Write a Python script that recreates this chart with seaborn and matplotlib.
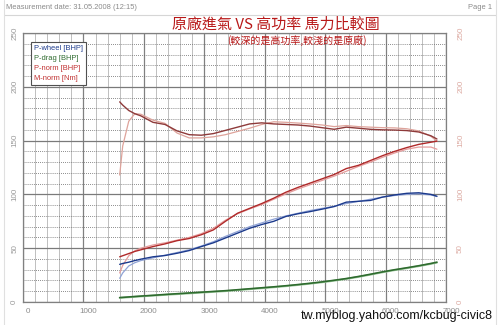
import matplotlib
matplotlib.use("Agg")
import matplotlib.pyplot as plt
import matplotlib.transforms as mtransforms
from matplotlib.lines import Line2D
import seaborn as sns

# ---------------- data ----------------
rpm = [1600, 1650, 1750, 1850, 1950, 2150, 2350, 2550, 2750, 2950,
       3150, 3350, 3550, 3750, 3950, 4150, 4350, 4550, 4750, 4950,
       5150, 5350, 5550, 5750, 5950, 6150, 6350, 6550, 6750, 6850]

# high-flow intake (darker lines)
p_wheel_hf = [35, 35.8, 37, 38.5, 39.8, 42, 43.2, 45.3, 47.8, 51.5,
              55, 59.5, 64, 68.5, 72, 75, 79.5, 82, 84, 86.3,
              88.7, 92.8, 93.6, 94.4, 97.5, 99.5, 101, 101.5, 100, 98.3]
p_drag_hf = [4.1, 4.3, 4.7, 5.1, 5.5, 6.2, 7.0, 7.7, 8.4, 9.1,
             9.8, 10.5, 11.4, 12.3, 13.2, 14.1, 15.1, 16.2, 17.4, 18.7,
             20.2, 21.8, 23.7, 25.8, 28.0, 30.0, 31.8, 33.7, 35.8, 37.0]
p_norm_hf = [42, 43, 45, 47, 48.5, 51.5, 54, 57, 59, 62.5,
             67, 75, 82.5, 87, 91.5, 96.5, 102, 106.5, 110.5, 114.5,
             118.5, 124, 127, 131.5, 136, 140, 143.5, 146.5, 148.5, 149.5]
m_norm_hf = [186, 183, 178, 175, 173, 167, 165, 159, 155.5, 155,
             156.5, 159.5, 162.5, 165.5, 166.5, 165.5, 165, 164.5, 163.5, 162,
             160.5, 162.5, 161.5, 160.5, 160, 159.8, 159.3, 158, 154.5, 151.5]

# stock intake (lighter lines)
p_wheel_st = [22, 27, 33.5, 36.5, 38.5, 41, 43.5, 46, 48.5, 52,
              56, 61, 65.5, 70, 73.5, 77, 80, 82.5, 85, 87,
              89, 91.5, 93.5, 95.5, 97.5, 99, 100, 100.5, 99.5, 98]
p_drag_st = [3.8, 4.0, 4.4, 4.8, 5.2, 5.9, 6.6, 7.3, 8.0, 8.7,
             9.4, 10.1, 11.0, 11.9, 12.8, 13.7, 14.7, 15.8, 17.0, 18.3,
             19.8, 21.4, 23.3, 25.4, 27.6, 29.6, 31.4, 33.3, 35.4, 36.6]
p_norm_st = [27, 34, 43, 47.5, 50, 53, 55, 57.5, 60, 63.5,
             68.5, 76, 82, 86.5, 90.5, 95.5, 100.5, 105, 109, 113,
             117, 121.5, 126, 130, 134.5, 138.5, 142, 144, 144, 142]
m_norm_st = [118, 145, 168, 175, 174.5, 169, 166, 157, 152.5, 152.5,
             153.5, 155.5, 158.5, 161.5, 165, 167.5, 167, 166.3, 165.5, 164.5,
             163, 164, 163, 162.5, 162, 161.8, 161, 159, 154, 149.5]

legend_labels = ["P-wheel [BHP]", "P-drag [BHP]", "P-norm [BHP]", "M-norm [Nm]"]
x_ticks = [0, 1000, 2000, 3000, 4000, 5000, 6000, 7000]
y_ticks = [0, 50, 100, 150, 200, 250]

title = "原廠進氣 VS 高功率 馬力比較圖"
subtitle = "(較深的是高功率,較淺的是原廠)"
header = "Measurement date: 31.05.2008 (12:15)"
page = "Page 1"
watermark = "tw.myblog.yahoo.com/kcbug-civic8"

# ---------------- style ----------------
sns.set_theme(style="white")
plt.rcParams['font.family'] = ['Liberation Sans', 'DejaVu Sans']
CJK = ['Noto Sans CJK TC', 'DejaVu Sans']

W, H = 500, 325
fig = plt.figure(figsize=(5, 3.25), dpi=100)
fig.patch.set_facecolor("white")

def fx(px):
    return px / W

def fy(py):
    return 1 - py / H

L, R, T, B = 23, 446, 33, 302
ax = fig.add_axes([fx(L), fy(B), fx(R - L), (B - T) / H])
ax.set_facecolor("white")

# grid
for v in range(0, 7001, 200):
    major = (v % 1000 == 0)
    ax.axvline(v, color="#808080" if major else "#b4b4b4",
               lw=0.9 if major else 0.6, zorder=0)
for v in range(0, 251, 10):
    if v % 50 == 0:
        ax.axhline(v, color="#7a7a7a", lw=0.9, zorder=0)
    else:
        ax.axhline(v, color="#666666", lw=0.6, ls=(0, (1, 1.5)), zorder=0)

cols = {
    "pw": ("#1c3a8c", "#90a3d6"),
    "pd": ("#2f6b2f", "#9cc99c"),
    "pn": ("#b02a2a", "#e59c9c"),
    "mn": ("#8e3a3a", "#dea39b"),
}

# stock (light) first
sns.lineplot(x=rpm, y=m_norm_st, ax=ax, color=cols["mn"][1], lw=0.9)
sns.lineplot(x=rpm, y=p_norm_st, ax=ax, color=cols["pn"][1], lw=0.9)
sns.lineplot(x=rpm, y=p_wheel_st, ax=ax, color=cols["pw"][1], lw=0.9)
sns.lineplot(x=rpm, y=p_drag_st, ax=ax, color=cols["pd"][1], lw=1.4)
# high flow (dark)
sns.lineplot(x=rpm, y=m_norm_hf, ax=ax, color=cols["mn"][0], lw=1.0)
sns.lineplot(x=rpm, y=p_norm_hf, ax=ax, color=cols["pn"][0], lw=1.0)
sns.lineplot(x=rpm, y=p_wheel_hf, ax=ax, color=cols["pw"][0], lw=1.0)
sns.lineplot(x=rpm, y=p_drag_hf, ax=ax, color=cols["pd"][0], lw=1.2)

ax.set_xlim(0, 7000)
ax.set_ylim(0, 250)
ax.set_xlabel("")
ax.set_ylabel("")
for s in ax.spines.values():
    s.set_color("#808080")
    s.set_linewidth(0.9)

ax.set_xticks(x_ticks)
ax.set_xticklabels([str(t) for t in x_ticks], fontsize=5.8, color="#8c8c8c")
ax.set_yticks(y_ticks)
ax.set_yticklabels([str(t) for t in y_ticks], fontsize=5.8, color="#9a9a9a",
                   rotation=90, va="center")
ax.tick_params(axis="x", length=2, pad=2.5, color="#909090")
ax.tick_params(axis="y", length=0, pad=3.5)
off = mtransforms.ScaledTranslation(5 / 100, 0, fig.dpi_scale_trans)
for lab in ax.get_xticklabels():
    lab.set_transform(lab.get_transform() + off)

ax2 = ax.twinx()
ax2.set_ylim(0, 250)
ax2.set_yticks(y_ticks)
ax2.set_yticklabels([str(t) for t in y_ticks], fontsize=5.8, color="#dcaaa2",
                    rotation=90, va="center")
ax2.tick_params(axis="y", length=0, pad=8)
for s in ax2.spines.values():
    s.set_visible(False)

# legend
handles = [Line2D([], [], lw=0) for _ in legend_labels]
leg = ax.legend(handles, legend_labels, loc="upper left",
                bbox_to_anchor=(fx(30.5), fy(41.5)), bbox_transform=fig.transFigure,
                borderaxespad=0, handlelength=0, handletextpad=0, fontsize=5.4,
                frameon=True, fancybox=False, borderpad=0.4, labelspacing=0.38,
                edgecolor="#505050", framealpha=1)
leg.get_frame().set_linewidth(0.8)
for txt, c in zip(leg.get_texts(), ["#1c3a8c", "#2f6b2f", "#c03030", "#c03030"]):
    txt.set_color(c)

# titles
fig.text(fx(276), fy(24), title, ha="center", va="center", color="#b81818",
         fontsize=10.8, family=CJK)
fig.text(fx(297), fy(41), subtitle, ha="center", va="center", color="#b81818",
         fontsize=7.2, family=CJK)

# page header
fig.text(fx(6), fy(7.5), header, ha="left", va="center", color="#8a8a8a", fontsize=5.4)
fig.text(fx(492), fy(7.5), page, ha="right", va="center", color="#8a8a8a", fontsize=5.4)
fig.add_artist(Line2D([fx(4), fx(496)], [fy(15), fy(15)], color="#d6d6d6", lw=0.8))
fig.add_artist(Line2D([fx(4), fx(4)], [fy(0), fy(325)], color="#e0e0e0", lw=0.8))
fig.add_artist(Line2D([fx(496), fx(496)], [fy(0), fy(325)], color="#e0e0e0", lw=0.8))

# watermark
fig.text(fx(493), fy(316), watermark, ha="right", va="center", color="#111111",
         fontsize=9)

fig.savefig("out.png", dpi=100, facecolor="white")
